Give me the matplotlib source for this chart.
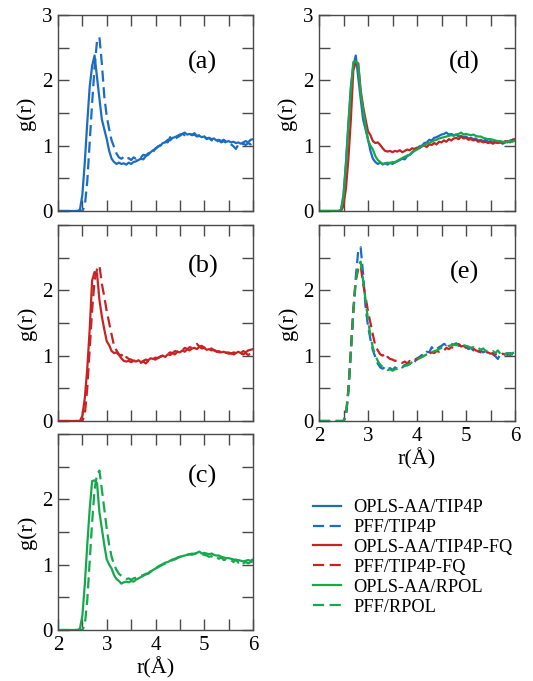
import numpy as np
import matplotlib
matplotlib.use('Agg')
import matplotlib.pyplot as plt
from matplotlib.ticker import MultipleLocator

plt.rcParams['font.family'] = ['Liberation Serif', 'DejaVu Serif']
plt.rcParams['mathtext.fontset'] = 'stix'

# sampling grid of r (Angstrom), 2.00 .. 6.00 step 0.05
r = np.round(np.arange(2.0, 6.0001, 0.05), 2)

# OPLS-AA/TIP4P
g_opls_tip4p = [0, 0, 0, 0, 0, 0, 0, 0, 0, 0.02,
                0.25, 0.75, 1.35, 1.90, 2.22, 2.38, 2.05, 1.72, 1.40, 1.25,
                1.10, 0.92, 0.80, 0.75, 0.72, 0.74, 0.72, 0.73, 0.71, 0.74,
                0.72, 0.75, 0.76, 0.78, 0.80, 0.79, 0.84, 0.86, 0.90, 0.93,
                0.95, 0.99, 1.00, 1.04, 1.05, 1.09, 1.08, 1.12, 1.13, 1.15,
                1.17, 1.18, 1.20, 1.17, 1.18, 1.16, 1.17, 1.14, 1.15, 1.13,
                1.14, 1.11, 1.12, 1.10, 1.11, 1.08, 1.09, 1.07, 1.09, 1.06,
                1.07, 1.05, 1.06, 1.04, 1.05, 1.03, 1.05, 1.07, 1.05, 1.09,
                1.10]
# PFF/TIP4P
g_pff_tip4p = [0, 0, 0, 0, 0, 0, 0, 0, 0, 0,
               0, 0.08, 0.45, 1.05, 1.65, 2.20, 2.60, 2.66, 2.25, 1.75,
               1.45, 1.25, 1.08, 0.98, 0.88, 0.82, 0.80, 0.83, 0.79, 0.81,
               0.78, 0.82, 0.80, 0.84, 0.82, 0.86, 0.85, 0.88, 0.92, 0.90,
               0.96, 0.98, 1.01, 1.00, 1.06, 1.05, 1.13, 1.08, 1.10, 1.13,
               1.15, 1.18, 1.16, 1.19, 1.18, 1.17, 1.19, 1.15, 1.16, 1.13,
               1.14, 1.10, 1.12, 1.08, 1.10, 1.06, 1.08, 1.05, 1.07, 1.04,
               1.05, 1.02, 0.99, 0.95, 1.02, 1.00, 1.03, 1.01, 1.04, 1.02,
               1.05]
# OPLS-AA/TIP4P-FQ
g_opls_fq = [0, 0, 0, 0, 0, 0, 0, 0, 0, 0,
             0.08, 0.35, 0.80, 1.40, 2.15, 2.28, 2.26, 1.85, 1.60, 1.40,
             1.22, 1.16, 1.07, 1.04, 1.05, 1.01, 0.96, 0.92, 0.91, 0.92,
             0.90, 0.92, 0.91, 0.93, 0.90, 0.92, 0.94, 0.93, 0.96, 0.95,
             0.97, 0.96, 0.99, 1.00, 0.98, 1.02, 1.01, 1.04, 1.02, 1.06,
             1.05, 1.08, 1.06, 1.10, 1.08, 1.11, 1.12, 1.10, 1.14, 1.11,
             1.12, 1.09, 1.10, 1.08, 1.09, 1.06, 1.07, 1.05, 1.06, 1.04,
             1.05, 1.03, 1.05, 1.04, 1.06, 1.04, 1.07, 1.05, 1.08, 1.09,
             1.10]
# PFF/TIP4P-FQ
g_pff_fq = [0, 0, 0, 0, 0, 0, 0, 0, 0, 0,
            0, 0.10, 0.50, 1.10, 1.70, 2.15, 2.32, 2.38, 2.10, 1.90,
            1.68, 1.50, 1.32, 1.15, 1.08, 1.02, 1.00, 1.04, 0.98, 0.95,
            0.94, 0.92, 0.93, 0.90, 0.89, 0.91, 0.88, 0.92, 0.91, 0.95,
            0.94, 0.97, 0.98, 1.00, 1.01, 1.03, 1.05, 1.04, 1.07, 1.06,
            1.09, 1.08, 1.12, 1.10, 1.13, 1.12, 1.15, 1.18, 1.14, 1.15,
            1.12, 1.13, 1.10, 1.11, 1.08, 1.07, 1.05, 1.06, 1.04, 1.05,
            1.03, 1.04, 1.02, 1.03, 1.01, 1.03, 1.02, 1.04, 1.01, 1.03,
            1.05]
# OPLS-AA/RPOL
g_opls_rpol = [0, 0, 0, 0, 0, 0, 0, 0, 0, 0.02,
               0.22, 0.70, 1.30, 1.85, 2.28, 2.29, 2.25, 1.80, 1.55, 1.30,
               1.08, 1.00, 0.94, 0.84, 0.78, 0.75, 0.71, 0.73, 0.74, 0.73,
               0.75, 0.74, 0.77, 0.79, 0.81, 0.83, 0.85, 0.86, 0.89, 0.92,
               0.94, 0.97, 0.99, 1.01, 1.03, 1.04, 1.06, 1.08, 1.09, 1.11,
               1.12, 1.13, 1.14, 1.15, 1.16, 1.15, 1.17, 1.18, 1.20, 1.17,
               1.18, 1.17, 1.16, 1.17, 1.15, 1.14, 1.14, 1.12, 1.11, 1.10,
               1.10, 1.09, 1.08, 1.07, 1.07, 1.06, 1.05, 1.06, 1.07, 1.06,
               1.08]
# PFF/RPOL
g_pff_rpol = [0, 0, 0, 0, 0, 0, 0, 0, 0, 0,
              0, 0.08, 0.45, 1.05, 1.65, 2.15, 2.38, 2.44, 2.15, 1.85,
              1.55, 1.30, 1.12, 1.00, 0.92, 0.86, 0.83, 0.80, 0.78, 0.79,
              0.77, 0.79, 0.80, 0.81, 0.83, 0.84, 0.86, 0.87, 0.90, 0.92,
              0.94, 0.96, 0.98, 1.00, 1.02, 1.03, 1.05, 1.07, 1.08, 1.10,
              1.12, 1.13, 1.14, 1.15, 1.16, 1.17, 1.16, 1.18, 1.17, 1.16,
              1.15, 1.14, 1.12, 1.13, 1.10, 1.12, 1.09, 1.11, 1.07, 1.08,
              1.06, 1.07, 1.04, 1.08, 1.03, 1.06, 1.02, 1.04, 1.02, 1.04,
              1.05]

blue = '#1c6cc4'
red = '#c92222'
green = '#17a84e'
spine_col = '#4a4a4a'
dash = (0, (5, 2.5))


def setup_axes(ax, label, label_pos, show_top, show_x):
    ax.set_xlim(2, 6)
    ax.set_ylim(0, 3)
    ax.xaxis.set_major_locator(MultipleLocator(1))
    ax.xaxis.set_minor_locator(MultipleLocator(0.5))
    ax.yaxis.set_major_locator(MultipleLocator(1))
    ax.yaxis.set_minor_locator(MultipleLocator(0.5))
    ax.tick_params(which='both', direction='in', top=True, right=True,
                   length=8, width=1, color=spine_col, labelsize=15, pad=4)
    for s in ax.spines.values():
        s.set_color(spine_col)
        s.set_linewidth(1)
    if show_top:
        ax.set_yticks([0, 1, 2, 3])
    else:
        ax.set_yticks([0, 1, 2])
    if show_x:
        ax.set_xlabel('r(Å)', fontsize=16, labelpad=2)
    else:
        ax.tick_params(labelbottom=False)
    ax.set_ylabel('g(r)', fontsize=16, labelpad=4)
    ax.text(label_pos[0], label_pos[1], label, fontsize=19,
            ha='center', va='center')


fig = plt.figure(figsize=(5.33, 6.81), dpi=100)
W, H = 533.0, 681.0

def add_ax(left, top, width, height):
    return fig.add_axes([left / W, 1 - (top + height) / H, width / W, height / H])

ax_a = add_ax(58, 15, 195, 196)
ax_b = add_ax(58, 225, 195, 196)
ax_c = add_ax(58, 434, 195, 196)
ax_d = add_ax(319, 15, 196, 196)
ax_e = add_ax(319, 225, 196, 196)

lw = 1.6
ax_a.plot(r, g_opls_tip4p, color=blue, lw=lw)
ax_a.plot(r, g_pff_tip4p, color=blue, lw=lw, linestyle=dash)
ax_b.plot(r, g_opls_fq, color=red, lw=lw)
ax_b.plot(r, g_pff_fq, color=red, lw=lw, linestyle=dash)
ax_c.plot(r, g_opls_rpol, color=green, lw=lw)
ax_c.plot(r, g_pff_rpol, color=green, lw=lw, linestyle=dash)

l1, = ax_d.plot(r, g_opls_tip4p, color=blue, lw=lw)
l3, = ax_d.plot(r, g_opls_fq, color=red, lw=lw)
l5, = ax_d.plot(r, g_opls_rpol, color=green, lw=lw)
l2, = ax_e.plot(r, g_pff_tip4p, color=blue, lw=lw, linestyle=dash)
l4, = ax_e.plot(r, g_pff_fq, color=red, lw=lw, linestyle=dash)
l6, = ax_e.plot(r, g_pff_rpol, color=green, lw=lw, linestyle=dash)

setup_axes(ax_a, '(a)', (4.97, 2.28), True, False)
setup_axes(ax_b, '(b)', (4.97, 2.37), False, False)
setup_axes(ax_c, '(c)', (4.97, 2.35), False, True)
setup_axes(ax_d, '(d)', (4.96, 2.28), True, False)
setup_axes(ax_e, '(e)', (4.96, 2.28), False, True)

names = ['OPLS-AA/TIP4P', 'PFF/TIP4P', 'OPLS-AA/TIP4P-FQ',
         'PFF/TIP4P-FQ', 'OPLS-AA/RPOL', 'PFF/RPOL']
fig.legend([l1, l2, l3, l4, l5, l6], names, loc='upper left',
           bbox_to_anchor=(313 / W, 1 - 499 / H), frameon=False,
           fontsize=13.2, borderpad=0, borderaxespad=0,
           handlelength=1.5, handletextpad=0.7, labelspacing=0.16)

fig.savefig('out.png', dpi=100)
